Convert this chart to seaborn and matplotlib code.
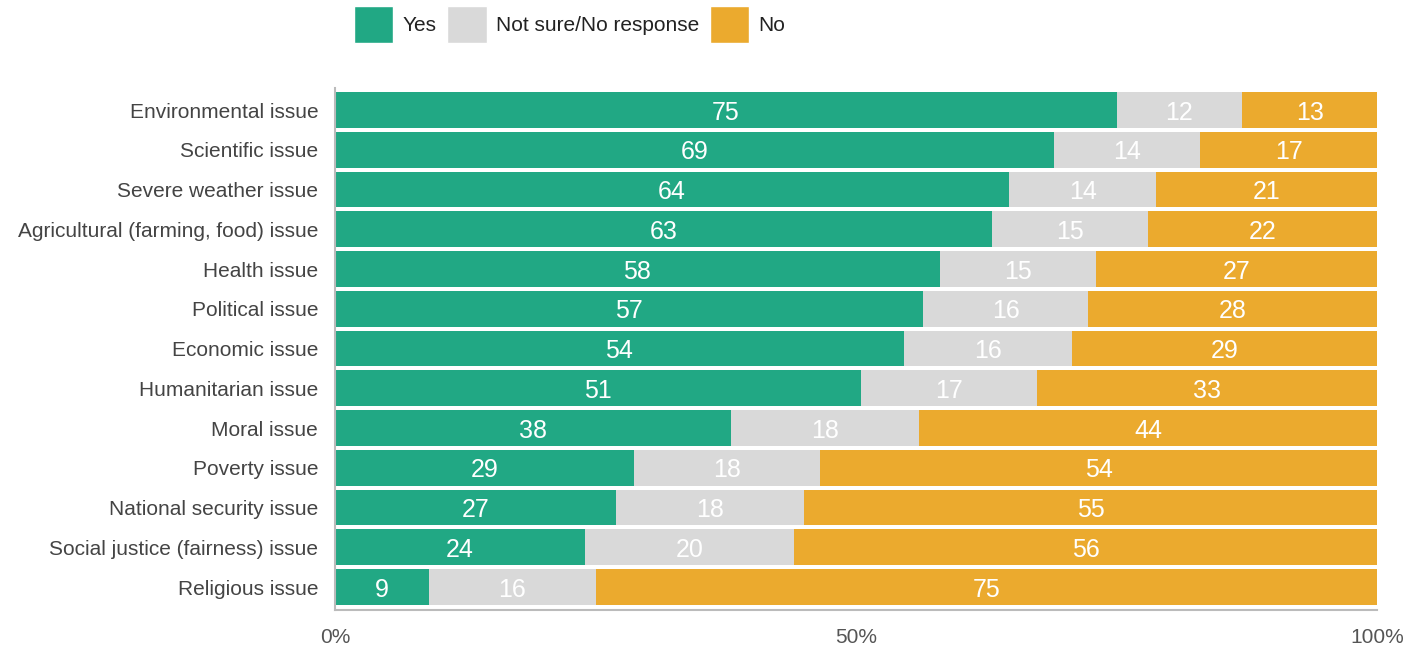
import numpy as np
import pandas as pd
import matplotlib.pyplot as plt
import seaborn as sns
from matplotlib.patches import Patch

issues = ["Environmental issue", "Scientific issue", "Severe weather issue",
          "Agricultural (farming, food) issue", "Health issue", "Political issue",
          "Economic issue", "Humanitarian issue", "Moral issue", "Poverty issue",
          "National security issue", "Social justice (fairness) issue", "Religious issue"]
yes = [75, 69, 64, 63, 58, 57, 54, 51, 38, 29, 27, 24, 9]
not_sure = [12, 14, 14, 15, 15, 16, 16, 17, 18, 18, 18, 20, 16]
no = [13, 17, 21, 22, 27, 28, 29, 33, 44, 54, 55, 56, 75]

GREEN = "#21a884"
GREY = "#d9d9d9"
ORANGE = "#ebaa2e"

df = pd.DataFrame({"issue": issues, "yes": yes, "not_sure": not_sure, "no": no})
total = df[["yes", "not_sure", "no"]].sum(axis=1)
df["p_yes"] = df["yes"] / total * 100
df["p_ns"] = df["not_sure"] / total * 100
df["p_no"] = df["no"] / total * 100
df["c1"] = df["p_yes"]
df["c2"] = df["p_yes"] + df["p_ns"]
df["c3"] = df["c2"] + df["p_no"]

sns.set_style("white")
plt.rcParams["font.family"] = ["Liberation Sans", "DejaVu Sans"]

fig = plt.figure(figsize=(14.07, 6.49), dpi=100)
ax = fig.add_axes([0.238, 0.060, 0.741, 0.804])

for col, color in [("c3", ORANGE), ("c2", GREY), ("c1", GREEN)]:
    sns.barplot(data=df, x=col, y="issue", color=color, width=0.9,
                saturation=1, ax=ax, orient="h", edgecolor="none")

lbl = dict(ha="center", va="center_baseline", color="white", fontsize=18)
for i, row in df.iterrows():
    ax.text(row["p_yes"] / 2, i, str(row["yes"]), **lbl)
    ax.text(row["c1"] + row["p_ns"] / 2, i, str(row["not_sure"]), **lbl)
    ax.text(row["c2"] + row["p_no"] / 2, i, str(row["no"]), **lbl)

ax.set_xlim(0, 100)
ax.set_ylim(12.58, -0.55)
ax.set_xticks([0, 50, 100])
ax.set_xticklabels(["0%", "50%", "100%"])
ax.set_xlabel("")
ax.set_ylabel("")
ax.tick_params(axis="x", length=4, color="#bbbbbb", labelsize=15,
               labelcolor="#555555", pad=9)
ax.tick_params(axis="y", length=0, labelsize=15, labelcolor="#444444", pad=12)

for s in ["top", "right"]:
    ax.spines[s].set_visible(False)
for s in ["left", "bottom"]:
    ax.spines[s].set_color("#bbbbbb")
    ax.spines[s].set_linewidth(1.5)

handles = [Patch(facecolor=GREEN, label="Yes"),
           Patch(facecolor=GREY, label="Not sure/No response"),
           Patch(facecolor=ORANGE, label="No")]
fig.legend(handles=handles, loc="upper left", bbox_to_anchor=(0.238, 1.020),
           ncol=3, frameon=False, fontsize=15, handlelength=1.9,
           handleheight=2.4, handletextpad=0.45, columnspacing=0.5,
           labelcolor="#222222")

fig.savefig("out.png", dpi=100)
